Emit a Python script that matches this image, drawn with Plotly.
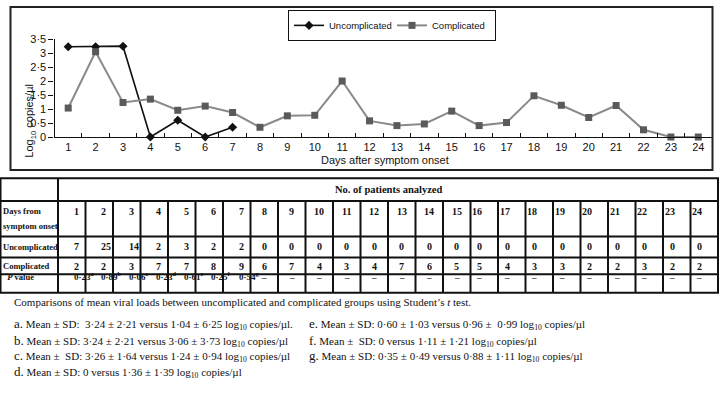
import plotly.graph_objects as go

# ---- data ----
days = list(range(1, 25))
uncomp_days = [1, 2, 3, 4, 5, 6, 7]
uncomp_load = [3.24, 3.24, 3.26, 0.0, 0.60, 0.0, 0.35]
comp_load = [1.04, 3.06, 1.24, 1.36, 0.96, 1.11, 0.88, 0.35, 0.76, 0.78, 2.01, 0.58,
             0.41, 0.47, 0.93, 0.41, 0.52, 1.48, 1.14, 0.70, 1.13, 0.26, 0.0, 0.0]
y_ticks = [0, 0.5, 1, 1.5, 2, 2.5, 3, 3.5]
y_ticktext = ["0", "0·5", "1", "1·5", "2", "2·5", "3", "3·5"]

n_uncomp = [7, 25, 14, 2, 3, 2, 2] + [0] * 17
n_comp = [2, 2, 3, 7, 7, 8, 9, 6, 7, 4, 3, 4, 7, 6, 5, 5, 4, 3, 3, 2, 2, 3, 2, 2]
p_values = ["0·23<sup>a</sup>", "0·89<sup>b</sup>", "0·06<sup>c</sup>", "0·23<sup>d</sup>",
            "0·61<sup>e</sup>", "0·25<sup>f</sup>", "0·54<sup>g</sup>"] + ["–"] * 17
row_labels = ["Days from", "symptom onset", "Uncomplicated", "Complicated", "  <i>P</i> value"]

note_title = "Comparisons of mean viral loads between uncomplicated and complicated groups using Student’s <i>t</i> test."
notes_left = [
    ("a.", "Mean ± SD:  3·24 ± 2·21 versus 1·04 ± 6·25 log<sub>10</sub> copies/µl."),
    ("b.", "Mean ± SD: 3·24 ± 2·21 versus 3·06 ± 3·73 log<sub>10</sub> copies/µl"),
    ("c.", "Mean ±  SD: 3·26 ± 1·64 versus 1·24 ± 0·94 log<sub>10</sub> copies/µl"),
    ("d.", "Mean ± SD: 0 versus 1·36 ± 1·39 log<sub>10</sub> copies/µl"),
]
notes_right = [
    ("e.", "Mean ± SD: 0·60 ± 1·03 versus 0·96 ±  0·99 log<sub>10</sub> copies/µl"),
    ("f.", "Mean ±  SD: 0 versus 1·11 ± 1·21 log<sub>10</sub> copies/µl"),
    ("g.", "Mean ± SD: 0·35 ± 0·49 versus 0·88 ± 1·11 log<sub>10</sub> copies/µl"),
]

W, H = 720, 408
def px(x):
    return x / W
def py(y):
    return 1 - y / H

SANS = "Liberation Sans, Arial, sans-serif"
SERIF = "Liberation Serif, Times New Roman, serif"

fig = go.Figure()
fig.add_trace(go.Scatter(
    x=uncomp_days, y=uncomp_load, name="Uncomplicated", mode="lines+markers",
    line=dict(color="#111111", width=1.6),
    marker=dict(symbol="diamond", size=7, color="#111111"),
    cliponaxis=False))
fig.add_trace(go.Scatter(
    x=days, y=comp_load, name="Complicated", mode="lines+markers",
    line=dict(color="#8a8a8a", width=2),
    marker=dict(symbol="square", size=7, color="#5a5a5a"),
    cliponaxis=False))

shapes = []
annos = []

# chart frame
shapes.append(dict(type="rect", xref="paper", yref="paper",
                   x0=px(10.5), x1=px(712.5), y0=py(169), y1=py(1),
                   line=dict(color="#222", width=2)))

# axis titles
annos.append(dict(text="Log<sub>10</sub> copies/µl", x=px(21), y=py(78), xref="paper", yref="paper",
                  textangle=-90, showarrow=False, font=dict(family=SANS, size=11, color="#111")))
annos.append(dict(text="Days after symptom onset", x=px(385), y=py(159), xref="paper", yref="paper",
                  showarrow=False, font=dict(family=SANS, size=11, color="#111")))

# ---- table ----
tx0, tx1 = 0.5, 718
c0 = 58
cw = (tx1 - c0) / 24
rows_y = [177.5, 201, 237.5, 259, 276.5, 295.5]
lw = 2
shapes.append(dict(type="rect", xref="paper", yref="paper", x0=px(tx0), x1=px(tx1),
                   y0=py(rows_y[-1]), y1=py(rows_y[0]), line=dict(color="#111", width=lw)))
for yy in rows_y[1:-1]:
    shapes.append(dict(type="line", xref="paper", yref="paper", x0=px(tx0), x1=px(tx1),
                       y0=py(yy), y1=py(yy), line=dict(color="#111", width=lw)))
shapes.append(dict(type="line", xref="paper", yref="paper", x0=px(c0), x1=px(c0),
                   y0=py(rows_y[0]), y1=py(rows_y[-1]), line=dict(color="#111", width=lw)))
for i in range(1, 24):
    xx = c0 + i * cw
    shapes.append(dict(type="line", xref="paper", yref="paper", x0=px(xx), x1=px(xx),
                       y0=py(rows_y[1]), y1=py(rows_y[-1]), line=dict(color="#111", width=lw)))

lfont = dict(family=SERIF, size=8.5, color="#111")
tfont = dict(family=SERIF, size=10, color="#111")
pfont = dict(family=SERIF, size=9, color="#111")
annos.append(dict(text="<b>No. of patients analyzed</b>", x=px((c0 + tx1) / 2), y=py(189),
                  xref="paper", yref="paper", showarrow=False,
                  font=dict(family=SERIF, size=10.5, color="#111")))
label_y = [211.5, 227, 248, 268, 286.5]
for lab, yy in zip(row_labels, label_y):
    annos.append(dict(text="<b>" + lab + "</b>", x=px(1), y=py(yy), xref="paper", yref="paper",
                      xanchor="left", align="left", showarrow=False, font=lfont))
for i in range(24):
    cx = c0 + (i + 0.5) * cw
    for txt, yy, fnt in [(str(days[i]), 211.5, tfont), (str(n_uncomp[i]), 248, tfont),
                         (str(n_comp[i]), 268, tfont), (p_values[i], 286.5, pfont)]:
        annos.append(dict(text="<b>" + txt + "</b>", x=px(cx), y=py(yy), xref="paper", yref="paper",
                          showarrow=False, font=fnt))

# ---- footnotes ----
nfont = dict(family=SERIF, size=11, color="#111")
annos.append(dict(text=note_title, x=px(12), y=py(313), xref="paper", yref="paper",
                  xanchor="left", showarrow=False, font=nfont))
note_y = [338, 355, 371, 387]
for (letter, txt), yy in zip(notes_left, note_y):
    annos.append(dict(text="<span style='font-size:13px'>" + letter + "</span> " + txt,
                      x=px(12), y=py(yy), xref="paper", yref="paper",
                      xanchor="left", showarrow=False, font=nfont))
for (letter, txt), yy in zip(notes_right, note_y):
    annos.append(dict(text="<span style='font-size:13px'>" + letter + "</span> " + txt,
                      x=px(307), y=py(yy), xref="paper", yref="paper",
                      xanchor="left", showarrow=False, font=nfont))

fig.update_layout(
    width=W, height=H, margin=dict(l=0, r=0, t=0, b=0),
    paper_bgcolor="white", plot_bgcolor="white",
    font=dict(family=SANS, size=11, color="#111"),
    shapes=shapes, annotations=annos,
    legend=dict(orientation="h", x=px(288), y=py(4), xanchor="left", yanchor="top",
                bordercolor="#111", borderwidth=1, bgcolor="white",
                font=dict(family=SANS, size=9.5, color="#111"), itemwidth=30,
                entrywidth=58),
    xaxis=dict(domain=[px(54.5), px(712)], range=[0.5, 24.5], tickvals=days,
               ticks="", showgrid=False, zeroline=False,
               showline=True, linecolor="#111", linewidth=1.2,
               minor=dict(ticks="inside", tick0=0.5, dtick=1, ticklen=4,
                          tickcolor="#111", showgrid=False),
               tickfont=dict(family=SANS, size=11), fixedrange=True),
    yaxis=dict(domain=[py(135), py(34.5)], range=[0, 3.5], tickvals=y_ticks, ticktext=y_ticktext,
               ticks="outside", ticklen=5, tickcolor="#111", showgrid=False, zeroline=False,
               showline=True, linecolor="#111", linewidth=1.2,
               tickfont=dict(family=SANS, size=11), fixedrange=True),
)

fig.write_html("out.html", config={"displayModeBar": False},
               post_script="document.body.style.margin='0';document.body.style.overflow='hidden';")
